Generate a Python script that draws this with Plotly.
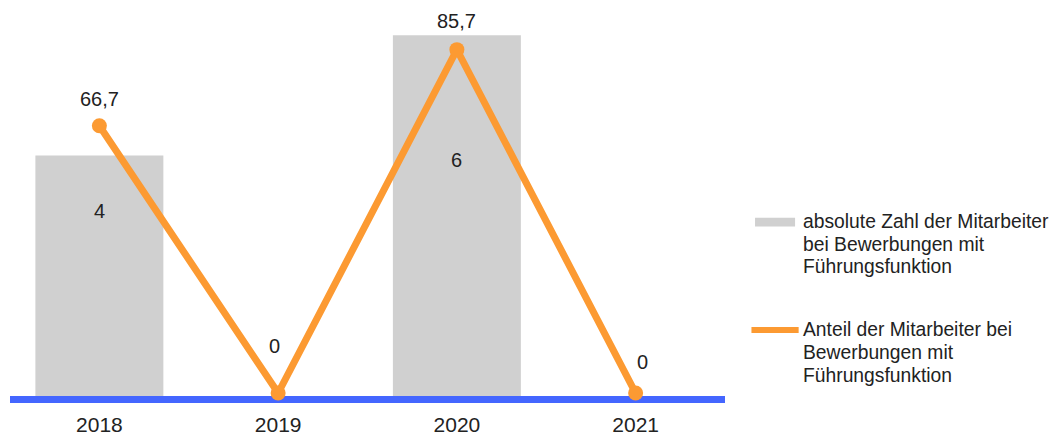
import plotly.graph_objects as go

years = ["2018", "2019", "2020", "2021"]
bar_values = [4, 0, 6, 0]
share_values = [66.7, 0, 85.7, 0]
share_labels = ["66,7", "0", "85,7", "0"]
bar_label_idx = [0, 2]
bar_label_values = [4, 6]

bar_name_lines = ["absolute Zahl der Mitarbeiter", "bei Bewerbungen mit", "Führungsfunktion"]
line_name_lines = ["Anteil der Mitarbeiter bei", "Bewerbungen mit", "Führungsfunktion"]

FONT = "Liberation Sans, Arial, sans-serif"
GRAY = "#d0d0d0"
ORANGE = "#fc9a32"
BLUE = "#4466ff"
TXT = "#222222"

fig = go.Figure()
fig.add_trace(go.Bar(x=years, y=bar_values, marker=dict(color=GRAY, line=dict(width=0)),
                     name=" ".join(bar_name_lines), showlegend=False, hoverinfo="skip"))
fig.add_trace(go.Scatter(x=years, y=share_values, yaxis="y2", mode="lines+markers",
                         line=dict(color=ORANGE, width=7),
                         marker=dict(color=ORANGE, size=15),
                         name=" ".join(line_name_lines), showlegend=False, cliponaxis=False))

# value labels for the line (category index used for x)
line_shifts = [(0, 27), (-4, 47), (0, 29), (7, 31)]
for i, (v, lab, (dx, dy)) in enumerate(zip(share_values, share_labels, line_shifts)):
    fig.add_annotation(x=i, y=v, xref="x", yref="y2", text=lab, showarrow=False,
                       xshift=dx, yshift=dy, yanchor="middle",
                       font=dict(family=FONT, size=20, color=TXT))

# value labels for the bars
bar_shifts = [-55, -125]
for i, v, dy in zip(bar_label_idx, bar_label_values, bar_shifts):
    fig.add_annotation(x=i, y=v, xref="x", yref="y", text=str(v), showarrow=False,
                       yshift=dy, yanchor="middle",
                       font=dict(family=FONT, size=20, color=TXT))

# custom legend
fig.add_shape(type="rect", xref="paper", yref="paper", x0=1.042, x1=1.098,
              y0=0.439, y1=0.462, fillcolor=GRAY, line=dict(width=0))
fig.add_shape(type="line", xref="paper", yref="paper", x0=1.037, x1=1.103,
              y0=0.171, y1=0.171, line=dict(color=ORANGE, width=6))
leg_y1 = [0.4508, 0.3925, 0.3342]
leg_y2 = [0.1710, 0.1127, 0.0544]
for txt, yy in zip(bar_name_lines, leg_y1):
    fig.add_annotation(xref="paper", yref="paper", x=1.106, y=yy, text=txt,
                       showarrow=False, xanchor="left", yanchor="middle", align="left",
                       font=dict(family=FONT, size=19.3, color=TXT))
for txt, yy in zip(line_name_lines, leg_y2):
    fig.add_annotation(xref="paper", yref="paper", x=1.106, y=yy, text=txt,
                       showarrow=False, xanchor="left", yanchor="middle", align="left",
                       font=dict(family=FONT, size=19.3, color=TXT))

fig.update_layout(
    width=1053, height=439,
    margin=dict(l=10, r=328, t=10, b=43, autoexpand=False),
    paper_bgcolor="white", plot_bgcolor="white",
    bargap=0.284,
    showlegend=False,
    xaxis=dict(type="category", range=[-0.5, 3.5], showline=True, linecolor=BLUE,
               linewidth=7, layer="below traces", showgrid=False, ticks="",
               automargin=False, ticklabelstandoff=4,
               tickfont=dict(family=FONT, size=21, color=TXT)),
    yaxis=dict(range=[0, 6.42], visible=False, showgrid=False, zeroline=False,
               automargin=False),
    yaxis2=dict(range=[-0.74, 95.6], overlaying="y", visible=False,
                showgrid=False, zeroline=False, automargin=False),
)

fig.write_html("out.html")
